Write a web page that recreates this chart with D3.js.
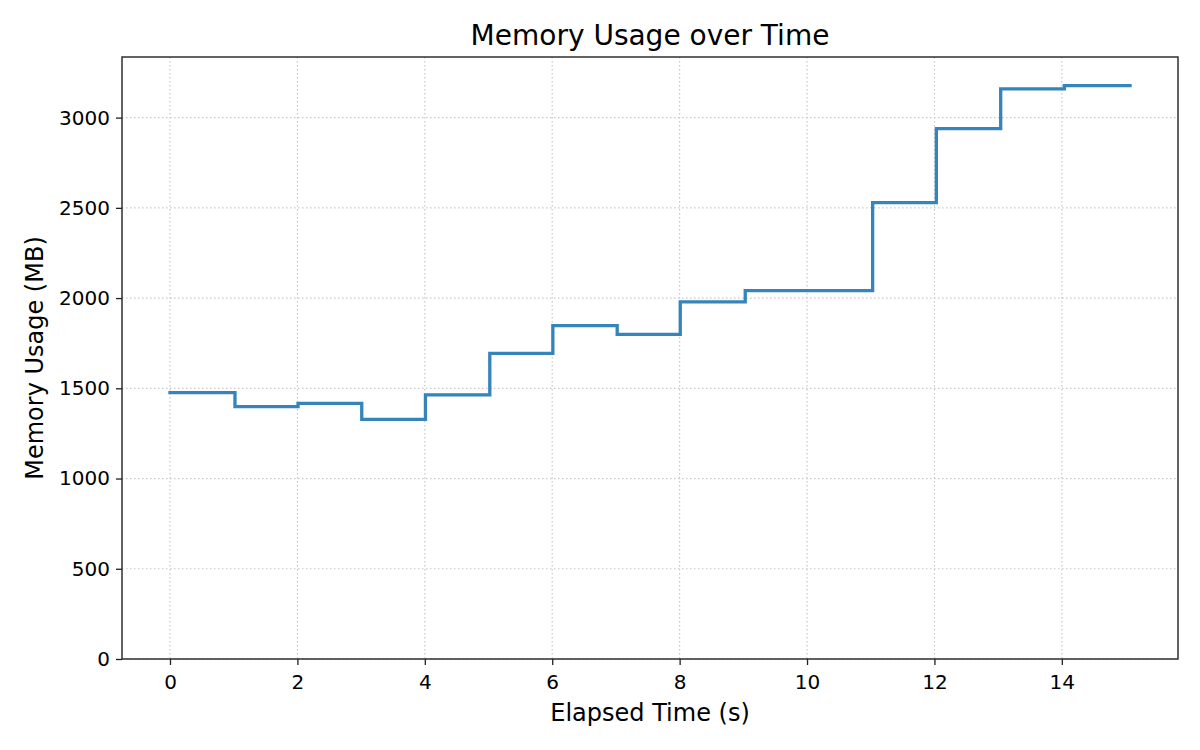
<!DOCTYPE html>
<html>
<head>
<meta charset="utf-8">
<script src="https://cdn.jsdelivr.net/npm/d3@7"></script>
<style>
  html, body { margin: 0; padding: 0; background: #fff; }
  svg { display: block; font-family: "DejaVu Sans", sans-serif; }
</style>
</head>
<body>
<svg id="chart" width="1200" height="750"></svg>
<script>
// Data
const times  = [0, 1.02, 2.01, 3.01, 4.01, 5.02, 6.01, 7.02, 8.01, 9.03, 10.03, 11.03, 12.03, 13.04, 14.04, 15.07];
const memory = [1476, 1398, 1417, 1328, 1464, 1694, 1847, 1799, 1979, 2041, 2041, 2529, 2939, 3159, 3177, 3177];
const xTicks = [0, 2, 4, 6, 8, 10, 12, 14];
const yTicks = [0, 500, 1000, 1500, 2000, 2500, 3000];
const titleText = "Memory Usage over Time";
const xLabel = "Elapsed Time (s)";
const yLabel = "Memory Usage (MB)";

const W = 1200, H = 750;
const m = { left: 122, right: 22, top: 57, bottom: 91 };
const iw = W - m.left - m.right, ih = H - m.top - m.bottom;

const svg = d3.select("#chart");
const g = svg.append("g").attr("transform", `translate(${m.left},${m.top})`);

const xMin = d3.min(times), xMax = d3.max(times);
const xPad = (xMax - xMin) * 0.05;
const yMax = d3.max(memory);
const x = d3.scaleLinear().domain([xMin - xPad, xMax + xPad]).range([0, iw]);
const y = d3.scaleLinear().domain([0, yMax * 1.05]).range([ih, 0]);

// grid
const gridColor = "#c8c8c8";
g.append("g").selectAll("line").data(xTicks).join("line")
  .attr("x1", d => x(d)).attr("x2", d => x(d)).attr("y1", 0).attr("y2", ih)
  .attr("stroke", gridColor).attr("stroke-width", 1.2).attr("stroke-dasharray", "1.5,2.5");
g.append("g").selectAll("line").data(yTicks).join("line")
  .attr("y1", d => y(d)).attr("y2", d => y(d)).attr("x1", 0).attr("x2", iw)
  .attr("stroke", gridColor).attr("stroke-width", 1.2).attr("stroke-dasharray", "1.5,2.5");

// step line
const pts = times.map((t, i) => [t, memory[i]]);
const line = d3.line().x(d => x(d[0])).y(d => y(d[1])).curve(d3.curveStepAfter);
g.append("path").datum(pts).attr("d", line)
  .attr("fill", "none").attr("stroke", "#1f77b4").attr("stroke-opacity", 0.9)
  .attr("stroke-width", 3.3).attr("stroke-linejoin", "miter").attr("stroke-linecap", "square");

// axes
const xAxis = d3.axisBottom(x).tickValues(xTicks).tickSize(6).tickPadding(10).tickFormat(d3.format("d"));
const yAxis = d3.axisLeft(y).tickValues(yTicks).tickSize(6).tickPadding(6).tickFormat(d3.format("d"));
const gx = g.append("g").attr("transform", `translate(0,${ih})`).call(xAxis);
const gy = g.append("g").call(yAxis);
[gx, gy].forEach(a => {
  a.select(".domain").remove();
  a.selectAll(".tick line").attr("stroke", "#222").attr("stroke-width", 1.3);
  a.selectAll(".tick text").attr("fill", "#000").style("font-size", "20px").style("font-family", "DejaVu Sans");
});

// frame
g.append("rect").attr("x", 0).attr("y", 0).attr("width", iw).attr("height", ih)
  .attr("fill", "none").attr("stroke", "#222").attr("stroke-width", 1.4);

// labels
svg.append("text").attr("x", m.left + iw / 2).attr("y", 45).attr("text-anchor", "middle")
  .style("font-size", "28px").attr("fill", "#000").text(titleText);
svg.append("text").attr("x", m.left + iw / 2).attr("y", 720.5).attr("text-anchor", "middle")
  .style("font-size", "24px").attr("fill", "#000").text(xLabel);
svg.append("text").attr("transform", `translate(43,${m.top + ih / 2}) rotate(-90)`).attr("text-anchor", "middle")
  .style("font-size", "24px").attr("fill", "#000").text(yLabel);
</script>
</body>
</html>
